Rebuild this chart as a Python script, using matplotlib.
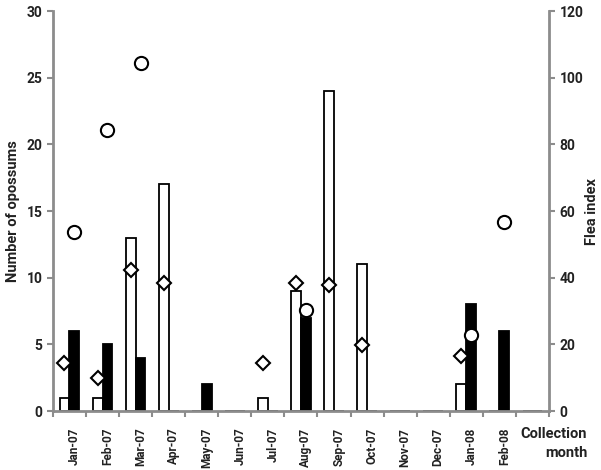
import numpy as np
import matplotlib
matplotlib.use('Agg')
import matplotlib.pyplot as plt

plt.rcParams['font.family'] = ['Roboto', 'DejaVu Sans']
plt.rcParams['font.weight'] = 'bold'
plt.rcParams['axes.labelweight'] = 'bold'

months = ['Jan-07', 'Feb-07', 'Mar-07', 'Apr-07', 'May-07', 'Jun-07', 'Jul-07',
          'Aug-07', 'Sep-07', 'Oct-07', 'Nov-07', 'Dec-07', 'Jan-08', 'Feb-08', '']
# bars on left axis (number of opossums)
white_bars = [1, 1, 13, 17, 0, 0, 1, 9, 24, 11, 0, 0, 2, 0, 0]
black_bars = [6, 5, 4, 0, 2, 0, 0, 7, 0, 0, 0, 0, 8, 6, 0]
# markers on right axis (flea index), None = no point
diamonds = [14.3, 9.8, 42.2, 38.5, None, None, 14.5, 38.5, 37.9, 19.7, None, None, 16.5, None, None]
circles = [53.6, 84.4, 104.4, None, None, None, None, 30.2, None, None, None, None, 22.7, 56.8, None]

grey = '#8c8c8c'
txt = '#222222'

fig = plt.figure(figsize=(6.01, 4.70), dpi=100)
ax = fig.add_axes([0.088, 0.1255, 0.8255, 0.851])
ax2 = ax.twinx()

x = np.arange(len(months))
w = 0.3
ax.bar(x - w / 2, white_bars, w, color='white', edgecolor='black', linewidth=1.3)
ax.bar(x + w / 2, black_bars, w, color='black', edgecolor='black', linewidth=1.3)

dx = [i - w / 2 for i, v in enumerate(diamonds) if v is not None]
dy = [v for v in diamonds if v is not None]
cx = [i + w / 2 for i, v in enumerate(circles) if v is not None]
cy = [v for v in circles if v is not None]
ax2.plot(dx, dy, 'D', ms=7.5, mfc='white', mec='black', mew=1.5, ls='none')
ax2.plot(cx, cy, 'o', ms=9.5, mfc='white', mec='black', mew=1.5, ls='none')

ax.set_xlim(-0.5, len(months) - 0.5)
ax.set_ylim(0, 30)
ax2.set_ylim(0, 120)
ax.set_yticks(np.arange(0, 31, 5))
ax2.set_yticks(np.arange(0, 121, 20))

ax.set_xticks(np.arange(-0.5, len(months), 1))
ax.set_xticklabels([])
ax.set_xticks(x + 0.15, minor=True)
ax.set_xticklabels(months, minor=True, rotation=90, fontsize=8.5, color=txt)
ax.tick_params(axis='x', which='minor', length=0, pad=12)
ax.tick_params(axis='x', which='major', length=4, width=1.5, color=grey)
ax.tick_params(axis='y', length=4, width=1.5, color=grey, labelsize=10, labelcolor=txt)
ax2.tick_params(axis='y', length=4, width=1.5, color=grey, labelsize=10, labelcolor=txt)

for a in (ax, ax2):
    for s in a.spines.values():
        s.set_visible(False)
ax.spines['left'].set_visible(True)
ax.spines['bottom'].set_visible(True)
ax2.spines['right'].set_visible(True)
for s in (ax.spines['left'], ax.spines['bottom'], ax2.spines['right']):
    s.set_color(grey)
    s.set_linewidth(2)

ax.set_ylabel('Number of opossums', fontsize=10.5, color=txt, labelpad=5)
ax2.set_ylabel('Flea index', fontsize=10.5, color=txt, labelpad=1)
fig.text(0.977, 0.057, 'Collection\nmonth', ha='right', va='center', fontsize=10.5,
         color=txt, linespacing=1.45, multialignment='right')

fig.savefig('out.png', dpi=100, facecolor='white')
